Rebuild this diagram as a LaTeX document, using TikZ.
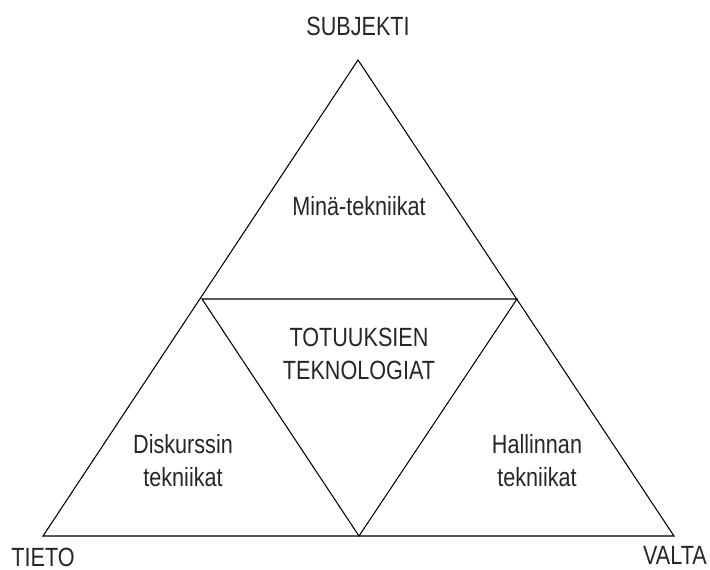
\documentclass[tikz,border=0pt]{standalone}
\usepackage{fontspec}
\setmainfont[FakeStretch=0.82]{Liberation Sans}
\begin{document}
\begin{tikzpicture}[x=0.02cm,y=-0.02cm,line width=0.6pt]
\tikzset{lbl/.style={font=\fontsize{15}{18.7}\selectfont,text=black!85,inner sep=0pt,align=center}}
\useasboundingbox (0,0) rectangle (710,570);
\coordinate (subj) at (358,60);
\coordinate (tieto) at (43,536);
\coordinate (valta) at (674,536);
\coordinate (mleft) at (202,299);
\coordinate (mright) at (517,299);
\coordinate (mbase) at (359,536);
\draw (subj) -- (tieto) -- (valta) -- cycle;
\draw (mleft) -- (mright) -- (mbase) -- cycle;
\node[lbl,anchor=base] (subjlbl) at (358,36) {SUBJEKTI};
\node[lbl,anchor=base] (tietolbl) at (43,566) {TIETO};
\node[lbl,anchor=base] (valtalbl) at (675,564) {VALTA};
\node[lbl,anchor=base] (mina) at (359,216) {Minä-tekniikat};
\node[lbl] (totuus) at (359,354) {TOTUUKSIEN\\TEKNOLOGIAT};
\node[lbl] (diskurssi) at (183,461) {Diskurssin\\tekniikat};
\node[lbl] (hallinta) at (537,461) {Hallinnan\\tekniikat};
\end{tikzpicture}
\end{document}
